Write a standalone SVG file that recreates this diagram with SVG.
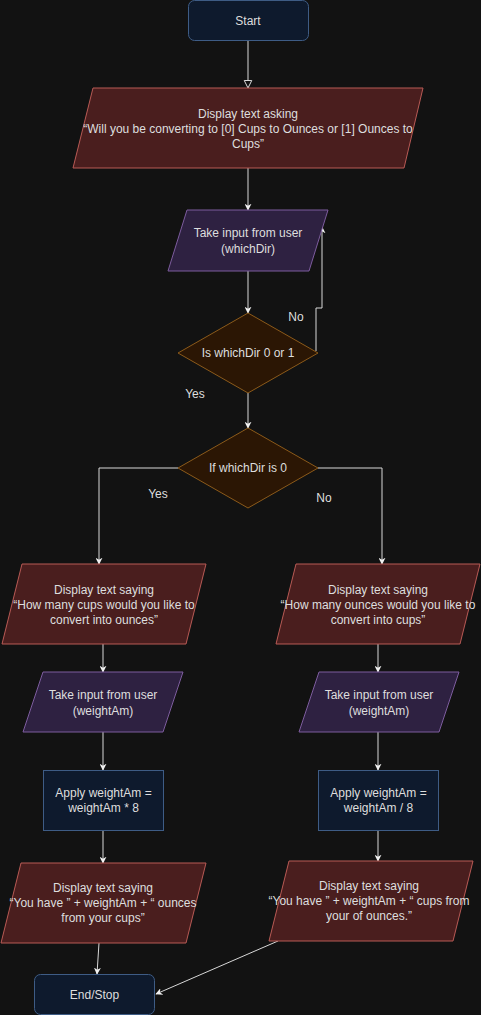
<svg xmlns="http://www.w3.org/2000/svg" width="481" height="1015" viewBox="0 0 481 1015">
<defs>
<style>
.bg{fill:#121212}
.term{fill:#0e1a2d;stroke:#3e5c85;stroke-width:1}
.proc{fill:#0e1a2d;stroke:#3e5c85;stroke-width:1}
.disp{fill:#4a1e1e;stroke:#b85a55;stroke-width:1}
.inp{fill:#2e2141;stroke:#7d5c9e;stroke-width:1}
.dec{fill:#2b1604;stroke:#8c5a1a;stroke-width:1}
text{font-family:"Liberation Sans",Arial,sans-serif;font-size:12px;fill:#dedede;text-anchor:middle}
.edge{fill:none;stroke:#d8d8d8;stroke-width:1}
</style>
<marker id="ah" viewBox="0 0 10 10" refX="9" refY="5" markerWidth="7" markerHeight="7" orient="auto" markerUnits="userSpaceOnUse">
<path d="M0,0 L10,5 L0,10 L3,5 Z" fill="#f0f0f0"/>
</marker>
<marker id="ahOpen" viewBox="0 0 12 12" refX="11" refY="6" markerWidth="9" markerHeight="10" orient="auto" markerUnits="userSpaceOnUse">
<path d="M1,1 L11,6 L1,11 Z" fill="#121212" stroke="#e0e0e0" stroke-width="1.3"/>
</marker>
</defs>
<rect class="bg" x="0" y="0" width="481" height="1015"/>

<g id="connectors">
<path class="edge" d="M248,41 L248,88" marker-end="url(#ahOpen)"/>
<path class="edge" d="M248,168 L248,210" marker-end="url(#ah)"/>
<path class="edge" d="M248,271 L248,313" marker-end="url(#ah)"/>
<path class="edge" d="M316,351 L316,308 L322,308 L322,227" marker-end="url(#ah)"/>
<path class="edge" d="M248,393 L248,428" marker-end="url(#ah)"/>
<path class="edge" d="M178,468 L99,468 L99,564" marker-end="url(#ah)"/>
<path class="edge" d="M318,468 L382,468 L382,564" marker-end="url(#ah)"/>
<path class="edge" d="M103,644 L103,672" marker-end="url(#ah)"/>
<path class="edge" d="M378,644 L378,672" marker-end="url(#ah)"/>
<path class="edge" d="M103,732 L103,770" marker-end="url(#ah)"/>
<path class="edge" d="M378,732 L378,770" marker-end="url(#ah)"/>
<path class="edge" d="M103,830 L103,863" marker-end="url(#ah)"/>
<path class="edge" d="M378,830 L378,861" marker-end="url(#ah)"/>
<path class="edge" d="M99,943 L97,974" marker-end="url(#ah)"/>
<path class="edge" d="M278,941 L156,994" marker-end="url(#ah)"/>
<text x="296" y="321">No</text>
<text x="195" y="398">Yes</text>
<text x="158" y="498">Yes</text>
<text x="324" y="502">No</text>
</g>

<g id="start">
<rect class="term" x="188.5" y="0.5" width="120" height="40" rx="6"/>
<text x="248" y="25">Start</text>
</g>

<g id="ask">
<polygon class="disp" points="93,88 423,88 404,168 73,168"/>
<text x="248" y="118">Display text asking</text>
<text x="248" y="133">“Will you be converting to [0] Cups to Ounces or [1] Ounces to</text>
<text x="248" y="148">Cups”</text>
</g>

<g id="inputDir">
<polygon class="inp" points="187,210 328,210 309,271 168,271"/>
<text x="248" y="237">Take input from user</text>
<text x="248" y="253">(whichDir)</text>
</g>

<g id="check01">
<polygon class="dec" points="248,313 318,353 248,393 178,353"/>
<text x="248" y="357">Is whichDir 0 or 1</text>
</g>

<g id="isZero">
<polygon class="dec" points="248,428 318,468 248,508 178,468"/>
<text x="248" y="472">If whichDir is 0</text>
</g>

<g id="askCups">
<polygon class="disp" points="22,564 206,564 186,644 2,644"/>
<text x="104" y="594">Display text saying</text>
<text x="104" y="609">“How many cups would you like to</text>
<text x="104" y="624">convert into ounces”</text>
</g>

<g id="askOunces">
<polygon class="disp" points="296,564 480,564 460,644 276,644"/>
<text x="378" y="594">Display text saying</text>
<text x="378" y="609">“How many ounces would you like to</text>
<text x="378" y="624">convert into cups”</text>
</g>

<g id="inputLeft">
<polygon class="inp" points="43,672 183,672 163,732 23,732"/>
<text x="103" y="699">Take input from user</text>
<text x="103" y="715">(weightAm)</text>
</g>

<g id="inputRight">
<polygon class="inp" points="319,672 459,672 439,732 299,732"/>
<text x="379" y="699">Take input from user</text>
<text x="379" y="715">(weightAm)</text>
</g>

<g id="applyMul">
<rect class="proc" x="43.5" y="770.5" width="120" height="60"/>
<text x="103.5" y="797">Apply weightAm =</text>
<text x="103.5" y="812">weightAm * 8</text>
</g>

<g id="applyDiv">
<rect class="proc" x="318.5" y="770.5" width="120" height="60"/>
<text x="378.5" y="797">Apply weightAm =</text>
<text x="378.5" y="812">weightAm / 8</text>
</g>

<g id="showOunces">
<polygon class="disp" points="21,863 206,863 186,943 1,943"/>
<text x="103" y="892">Display text saying</text>
<text x="103" y="907">“You have ” + weightAm + “ ounces</text>
<text x="103" y="922">from your cups”</text>
</g>

<g id="showCups">
<polygon class="disp" points="289,861 473,861 453,941 269,941"/>
<text x="369" y="890">Display text saying</text>
<text x="369" y="905">“You have ” + weightAm + “ cups from</text>
<text x="369" y="920">your of ounces.”</text>
</g>

<g id="end">
<rect class="term" x="34.5" y="974.5" width="120" height="40" rx="6"/>
<text x="94.5" y="999">End/Stop</text>
</g>
</svg>
